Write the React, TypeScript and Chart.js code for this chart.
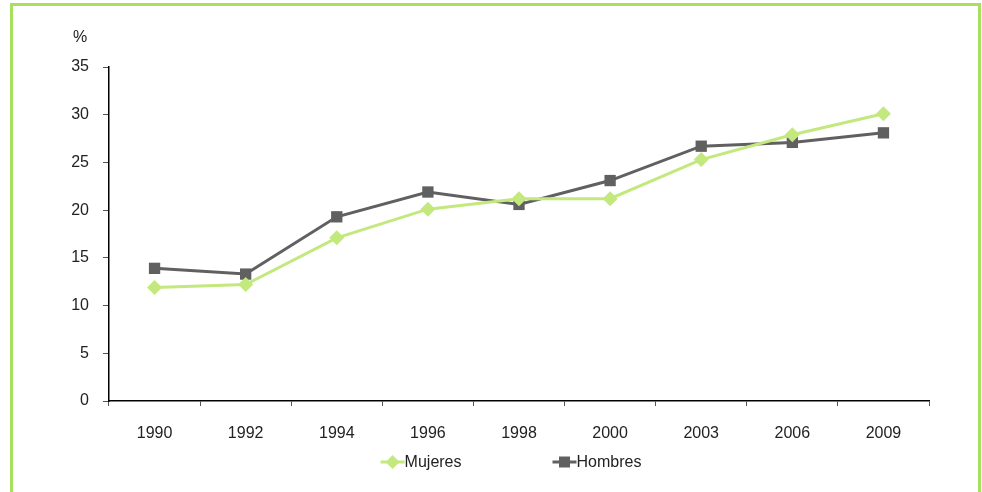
import React, { useEffect, useRef } from "react";
import { Chart, registerables } from "chart.js";

Chart.register(...registerables);

const categories = ["1990", "1992", "1994", "1996", "1998", "2000", "2003", "2006", "2009"];
const mujeres = [11.9, 12.2, 17.1, 20.1, 21.2, 21.2, 25.3, 27.9, 30.1];
const hombres = [13.9, 13.3, 19.3, 21.9, 20.6, 23.1, 26.7, 27.1, 28.1];
const yUnit = "%";

const GREEN = "#c3e87d";
const GRAY = "#606060";
const FRAME = "#a8e05e";
const TEXT = "#222222";
const FONT = "'Liberation Sans', Arial, Helvetica, sans-serif";
const FS = 16;

const decorPlugin = {
  id: "decor",
  beforeDraw(chart: any) {
    const { ctx, width, height } = chart;
    ctx.save();
    ctx.fillStyle = "#ffffff";
    ctx.fillRect(0, 0, width, height);
    ctx.strokeStyle = FRAME;
    ctx.lineWidth = 3;
    ctx.beginPath();
    ctx.moveTo(11.5, height + 10);
    ctx.lineTo(11.5, 4.5);
    ctx.lineTo(979.5, 4.5);
    ctx.lineTo(979.5, height + 10);
    ctx.stroke();
    ctx.restore();
  },
  afterDraw(chart: any) {
    const { ctx, chartArea } = chart;
    ctx.save();
    ctx.font = `${FS}px ${FONT}`;
    ctx.fillStyle = TEXT;
    ctx.textBaseline = "middle";
    ctx.textAlign = "center";
    ctx.fillText(yUnit, chartArea.left - 29, chartArea.top - 29);

    // legend
    const items = chart.data.datasets.map((d: any) => ({
      label: d.label,
      color: d.borderColor,
      style: d.pointStyle,
      w: 24 + ctx.measureText(d.label).width,
    }));
    const gap = 91;
    const total = items.reduce((s: number, it: any) => s + it.w, 0) + gap * (items.length - 1);
    let x = (chartArea.left + chartArea.right) / 2 - 8 - total / 2;
    const y = chartArea.bottom + 61;
    ctx.textAlign = "left";
    for (const it of items) {
      ctx.strokeStyle = it.color;
      ctx.lineWidth = 3;
      ctx.beginPath();
      ctx.moveTo(x, y);
      ctx.lineTo(x + 24, y);
      ctx.stroke();
      ctx.fillStyle = it.color;
      ctx.beginPath();
      if (it.style === "rectRot") {
        const r = 7;
        ctx.moveTo(x + 12, y - r);
        ctx.lineTo(x + 12 + r, y);
        ctx.lineTo(x + 12, y + r);
        ctx.lineTo(x + 12 - r, y);
        ctx.closePath();
      } else {
        ctx.rect(x + 12 - 5.5, y - 5.5, 11, 11);
      }
      ctx.fill();
      ctx.fillStyle = TEXT;
      ctx.fillText(it.label, x + 24, y + 1);
      x += it.w + gap;
    }
    ctx.restore();
  },
};

export default function App() {
  const ref = useRef<HTMLCanvasElement | null>(null);
  useEffect(() => {
    document.body.style.margin = "0";
    if (!ref.current) return;
    const chart = new Chart(ref.current, {
      type: "line",
      data: {
        labels: categories,
        datasets: [
          {
            label: "Mujeres",
            data: mujeres,
            borderColor: GREEN,
            backgroundColor: GREEN,
            borderWidth: 3,
            pointStyle: "rectRot",
            pointRadius: 7.5,
            pointBorderWidth: 0,
            pointBackgroundColor: GREEN,
            tension: 0,
          },
          {
            label: "Hombres",
            data: hombres,
            borderColor: GRAY,
            backgroundColor: GRAY,
            borderWidth: 3,
            pointStyle: "rect",
            pointRadius: 8,
            pointBorderWidth: 0,
            pointBackgroundColor: GRAY,
            tension: 0,
          },
        ],
      },
      options: {
        animation: false,
        responsive: false,
        layout: { padding: { left: 20, right: 53, top: 67, bottom: 41 } },
        plugins: { legend: { display: false }, tooltip: { enabled: false } },
        scales: {
          x: {
            offset: true,
            grid: { drawOnChartArea: false, drawTicks: true, tickLength: 5, color: "#555", offset: true },
            border: { color: "#000", width: 1.5 },
            ticks: { color: TEXT, font: { family: FONT, size: FS }, padding: 18, maxRotation: 0 },
            afterFit: (s: any) => { s.height = 50; },
          },
          y: {
            min: 0,
            max: 35,
            ticks: { stepSize: 5, color: TEXT, font: { family: FONT, size: FS }, padding: 14 },
            grid: { drawOnChartArea: false, drawTicks: true, tickLength: 6, color: "#555" },
            border: { color: "#000", width: 1.5 },
            afterFit: (s: any) => { s.width = 89; },
          },
        },
      },
      plugins: [decorPlugin],
    });
    return () => chart.destroy();
  }, []);
  return (
    <div style={{ width: 982, height: 492 }}>
      <canvas ref={ref} width={982} height={492} style={{ display: "block" }} />
    </div>
  );
}
